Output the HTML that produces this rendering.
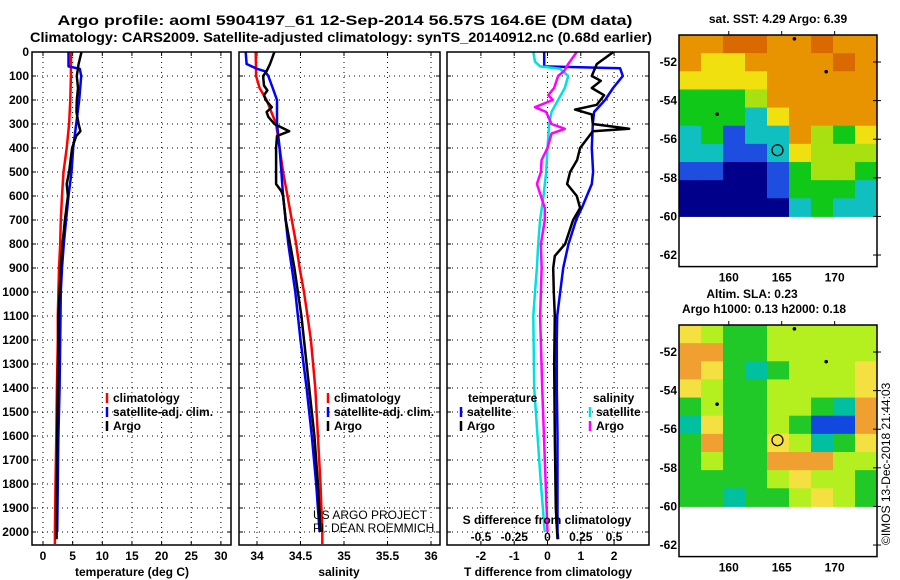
<!DOCTYPE html>
<html><head><meta charset="utf-8"><style>
html,body{margin:0;padding:0;background:#fff;}
svg{display:block;font-family:"Liberation Sans",sans-serif;}
.b{font-weight:bold;font-size:12px;}
</style></head><body>
<svg id="fig" width="900" height="580" viewBox="0 0 900 580" xmlns="http://www.w3.org/2000/svg">
<rect x="0" y="0" width="900" height="580" fill="#fff"/>
<text x="345" y="25" text-anchor="middle" font-size="14" font-weight="bold" textLength="575" lengthAdjust="spacingAndGlyphs">Argo profile: aoml 5904197_61 12-Sep-2014 56.57S 164.6E (DM data)</text>
<text x="341" y="42" text-anchor="middle" font-size="14" font-weight="bold" textLength="622" lengthAdjust="spacingAndGlyphs">Climatology: CARS2009. Satellite-adjusted climatology: synTS_20140912.nc (0.68d earlier)</text>
<g id="g"></g>
</svg>
<script>
// ---------- data ----------
const depthTicks=[0,100,200,300,400,500,600,700,800,900,1000,1100,1200,1300,1400,1500,1600,1700,1800,1900,2000];
const tTicks=[0,5,10,15,20,25,30];
const sTicks=[34,34.5,35,35.5,36];
const sTickLabels=["34","34.5","35","35.5","36"];
const dtTicks=[-2,-1,0,1,2];
const dsTicks=[-0.5,-0.25,0,0.25,0.5];
const dsTickLabels=["-0.5","-0.25","0","0.25","0.5"];

const tClimD=[0,100,200,300,400,500,600,700,800,900,1000,1100,1200,1400,1600,1800,2000,2050];
const tClim=[4.73,4.7,4.6,4.4,4.0,3.45,3.2,3.0,2.9,2.7,2.6,2.5,2.5,2.35,2.25,2.1,2.0,2.0];
const tSatD=[0,60,70,100,200,300,400,500,600,700,800,900,1000,1100,1200,1400,1600,1800,2000];
const tSat=[4.3,4.3,6.2,6.45,6.1,5.6,5.1,4.8,4.3,3.9,3.5,3.2,3.0,2.95,2.9,2.8,2.6,2.5,2.4];
const tArgoD=[0,50,100,150,200,250,300,330,350,400,500,550,600,700,800,900,1000,1100,1200,1400,1600,1800,2000,2030];
const tArgo=[6.5,6.0,5.7,5.9,5.7,5.65,6.0,6.3,5.6,4.9,4.4,4.0,4.2,3.7,3.3,3.0,2.8,2.6,2.6,2.5,2.4,2.35,2.3,2.3];

const sClimD=[0,100,150,200,300,400,500,600,700,800,900,1000,1100,1200,1400,1600,1800,2000,2050];
const sClim=[33.985,33.99,34.03,34.11,34.22,34.26,34.30,34.35,34.40,34.45,34.49,34.54,34.58,34.62,34.67,34.70,34.73,34.75,34.75];
const sSatD=[0,50,70,80,100,150,200,300,400,500,600,700,800,900,1000,1100,1200,1400,1600,1800,2000];
const sSat=[33.87,33.88,34.0,34.09,34.13,34.18,34.23,34.23,34.26,34.28,34.30,34.33,34.36,34.40,34.44,34.47,34.50,34.57,34.63,34.68,34.72];
const sArgoD=[0,50,80,100,140,160,180,200,230,250,270,300,330,350,400,450,500,550,580,600,700,800,900,1000,1100,1200,1400,1600,1800,2000];
const sArgo=[34.20,34.15,34.11,34.07,34.08,34.12,34.08,34.10,34.17,34.11,34.13,34.20,34.37,34.23,34.22,34.22,34.22,34.22,34.28,34.30,34.33,34.38,34.43,34.47,34.51,34.54,34.60,34.66,34.70,34.73];

const dtSatD=[0,60,68,100,150,200,250,300,400,500,550,600,650,700,800,900,1000,1100,1200,1400,1600,1800,2000,2030];
const dtSat=[-0.1,-0.1,2.18,2.26,1.97,1.73,1.4,1.36,1.33,1.37,1.33,1.18,1.03,0.86,0.63,0.47,0.38,0.29,0.28,0.28,0.3,0.3,0.3,0.32];
const dtArgoD=[0,50,100,120,150,180,220,240,260,300,320,330,400,450,500,550,600,650,700,800,850,900,1000,1100,1300,1600,1900,2030];
const dtArgo=[1.98,1.48,1.33,1.6,1.33,1.7,1.48,0.83,1.33,1.36,2.45,1.36,0.98,0.89,0.68,0.59,0.88,0.98,0.77,0.53,0.22,0.17,0.19,0.22,0.2,0.22,0.25,0.3];
const dsSatD=[0,40,60,70,100,150,200,250,300,400,500,600,700,800,900,1000,1100,1400,1800,2000];
const dsSat=[-0.107,-0.094,-0.056,0.094,0.156,0.13,0.08,0.03,0.013,0,-0.01,-0.03,-0.056,-0.07,-0.08,-0.094,-0.107,-0.1,-0.05,-0.02];
const dsArgoD=[0,50,80,100,150,180,200,230,250,300,320,340,400,450,500,550,600,650,700,800,900,1000,1100,1400,1700,2000];
const dsArgo=[0.22,0.156,0.124,0.08,0.05,0.006,0.04,-0.094,-0.01,0.03,0.13,0.03,0.0,-0.044,-0.05,-0.08,-0.05,-0.02,-0.02,-0.05,-0.044,-0.05,-0.056,-0.04,-0.02,0.0];

const latTicks=[-52,-54,-56,-58,-60,-62];
const lonTicks=[160,165,170];
const sstGrid=[
[7,7,8,8,7,7,8,7,7],
[7,6,6,7,7,7,7,8,7],
[6,6,6,6,7,7,7,7,7],
[4,4,4,5,7,7,7,7,7],
[4,4,4,3,6,7,7,7,7],
[3,4,2,3,3,7,5,4,6],
[3,3,2,2,3,6,5,5,5],
[2,2,1,1,2,4,5,5,4],
[1,1,1,1,2,4,4,4,3],
[1,1,1,1,1,3,4,3,3]];
const slaGrid=[
[6,5,4,4,5,5,5,5,5],
[7,7,4,4,5,5,5,5,5],
[7,6,4,3,4,5,5,5,6],
[6,5,4,4,5,5,5,5,6],
[4,5,4,4,5,5,4,3,7],
[3,6,4,4,5,4,2,2,7],
[4,7,4,4,6,5,3,4,6],
[4,5,4,4,7,7,7,5,5],
[4,4,4,4,5,6,5,5,4],
[4,4,3,4,4,5,6,5,4]];
const floatLon=164.6, floatLat=-56.57;
const otherLon=[166.2,169.2,158.9];
const otherLat=[-50.8,-52.5,-54.7];

// ---------- helpers ----------
const NS="http://www.w3.org/2000/svg";
const G=document.getElementById('g');
function mk(tag,attrs,parent){const e=document.createElementNS(NS,tag);for(const k in attrs)e.setAttribute(k,attrs[k]);(parent||G).appendChild(e);return e;}
const Y0=52,PY=0.24,YB=545;
function yD(d){return Y0+d*PY;}
const panels=[{x0:32,x1:231},{x0:239,x1:440},{x0:447,x1:649}];
function xT(v){return 43+v*5.93;}
function xS(v){return 257+(v-34)*87;}
function xDT(v){return 547.5+v*33.3;}
function xDS(v){return 547.5+v*133;}

function grid(p,xs,name){
  depthTicks.forEach(d=>{const l=mk('line',{x1:p.x0,x2:p.x1,y1:yD(d),y2:yD(d),stroke:'#000','stroke-width':1,'stroke-dasharray':'1,4'});
    
    
    mk('line',{x1:p.x0,x2:p.x0+4,y1:yD(d),y2:yD(d),stroke:'#000'});mk('line',{x1:p.x1-4,x2:p.x1,y1:yD(d),y2:yD(d),stroke:'#000'});});
  xs.forEach(x=>{const l=mk('line',{x1:x,x2:x,y1:Y0,y2:YB,stroke:'#000','stroke-width':1,'stroke-dasharray':'1,4'});
    
    
    mk('line',{x1:x,x2:x,y1:YB-4,y2:YB,stroke:'#000'});mk('line',{x1:x,x2:x,y1:Y0,y2:Y0+4,stroke:'#000'});});
}
function frame(p,name){const r=mk('rect',{x:p.x0,y:Y0,width:p.x1-p.x0,height:YB-Y0,fill:'none',stroke:'#000','stroke-width':1.5});
  
  }
function series(ds,vs,fx,col,name){
  const pts=ds.map((d,i)=>fx(vs[i]).toFixed(1)+','+yD(d).toFixed(1)).join(' ');
  const l=mk('polyline',{points:pts,fill:'none',stroke:col,'stroke-width':2.5,'stroke-linejoin':'round'});
  
  
}
function txt(x,y,s,attrs,name){const t=mk('text',Object.assign({x:x,y:y,class:'b'},attrs||{}));t.textContent=s;
  
  
  return t;}
function legend(x,y,col,s,name){const b=mk('line',{x1:x,x2:x,y1:y-9,y2:y+1,stroke:col,'stroke-width':2.5});
  
  
  txt(x+6,y,s,{},name+'-label');}

// depth labels
depthTicks.forEach(d=>{txt(29,yD(d)+4,String(d),{'text-anchor':'end'},'depth-tick-label');});

// panel 1
grid(panels[0],tTicks.map(xT),'temp');
series(tClimD,tClim,xT,'#ff0000','temp-climatology-line');
series(tSatD,tSat,xT,'#0000ff','temp-satellite-line');
series(tArgoD,tArgo,xT,'#000000','temp-argo-line');
frame(panels[0],'temperature-panel');
tTicks.forEach(v=>txt(xT(v),560,String(v),{'text-anchor':'middle'},'temp-tick-label'));
txt(132,576,'temperature (deg C)',{'text-anchor':'middle'},'temp-axis-title');
legend(107,402,'#ff0000','climatology','temp-legend-climatology');
legend(107,416,'#0000ff','satellite-adj. clim.','temp-legend-satellite');
legend(107,430,'#000000','Argo','temp-legend-argo');

// panel 2
grid(panels[1],sTicks.map(xS),'sal');
series(sClimD,sClim,xS,'#ff0000','sal-climatology-line');
series(sSatD,sSat,xS,'#0000ff','sal-satellite-line');
series(sArgoD,sArgo,xS,'#000000','sal-argo-line');
frame(panels[1],'salinity-panel');
sTicks.forEach((v,i)=>txt(xS(v),560,sTickLabels[i],{'text-anchor':'middle'},'sal-tick-label'));
txt(339,576,'salinity',{'text-anchor':'middle'},'sal-axis-title');
legend(328,402,'#ff0000','climatology','sal-legend-climatology');
legend(328,416,'#0000ff','satellite-adj. clim.','sal-legend-satellite');
legend(328,430,'#000000','Argo','sal-legend-argo');
txt(313,519,'US ARGO PROJECT',{style:'font-weight:normal;font-size:12px'},'credit-project');
txt(313,532,'PI: DEAN ROEMMICH',{style:'font-weight:normal;font-size:12px'},'credit-pi');

// panel 3
grid(panels[2],dtTicks.map(xDT),'diff');
series(dtSatD,dtSat,xDT,'#0000ff','dt-satellite-line');
series(dtArgoD,dtArgo,xDT,'#000000','dt-argo-line');
series(dsSatD,dsSat,xDS,'#00e0e0','ds-satellite-line');
series(dsArgoD,dsArgo,xDS,'#ff00ff','ds-argo-line');
frame(panels[2],'difference-panel');
dtTicks.forEach(v=>txt(xDT(v),560,String(v),{'text-anchor':'middle'},'dt-tick-label'));
txt(548,576,'T difference from climatology',{'text-anchor':'middle'},'dt-axis-title');
dsTicks.forEach((v,i)=>txt(xDS(v),541,dsTickLabels[i],{'text-anchor':'middle'},'ds-tick-label'));
txt(547,524,'S difference from climatology',{'text-anchor':'middle'},'ds-axis-title');
txt(468,402,'temperature',{},'diff-legend-temperature-heading');
txt(593,402,'salinity',{},'diff-legend-salinity-heading');
legend(461,416,'#0000ff','satellite','diff-legend-t-satellite');
legend(461,430,'#000000','Argo','diff-legend-t-argo');
legend(590,416,'#00e0e0','satellite','diff-legend-s-satellite');
legend(590,430,'#ff00ff','Argo','diff-legend-s-argo');

// maps
const MX0=679,MX1=877,LON0=155.3,LON1=174.0,PXLAT=19.3,LATTOP=-50.6;
function mxl(lon){return MX0+(lon-LON0)*(MX1-MX0)/(LON1-LON0);}
const sstCols={1:'#00008b',2:'#1e4ee0',3:'#10c0c0',4:'#10c818',5:'#a8e010',6:'#f0e010',7:'#e89400',8:'#d86a00'};
const slaCols={2:'#1048e0',3:'#00c0a0',4:'#20c828',5:'#b4f020',6:'#f4e040',7:'#f0a030'};
function map(top,gridArr,cols,name,title1,title2){
  const myl=lat=>top+(LATTOP-lat)*PXLAT;
  const rows=gridArr.length,ncols=gridArr[0].length;
  const yEnd=myl(-60);const cw=(MX1-MX0)/ncols,ch=(yEnd-top)/rows;
  gridArr.forEach((row,r)=>row.forEach((v,c)=>{const cell=mk('rect',{x:MX0+c*cw,y:top+r*ch,width:cw+0.5,height:ch+0.5,fill:cols[v]});
    
    }));
  const fr=mk('rect',{x:MX0,y:top,width:MX1-MX0,height:myl(-62.6)-top,fill:'none',stroke:'#000','stroke-width':1.5});
  
  
  latTicks.forEach(l=>{const y=myl(l);mk('line',{x1:MX1-4,x2:MX1,y1:y,y2:y,stroke:'#000'});mk('line',{x1:MX1,x2:MX1+4,y1:y,y2:y,stroke:'#000'});
    txt(MX0-2,y+4,String(l),{'text-anchor':'end'},name+'-lat-label');});
  lonTicks.forEach(l=>{const x=mxl(l);mk('line',{x1:x,x2:x,y1:top-4,y2:top,stroke:'#000'});
    txt(x,myl(-62.6)+15,String(l),{'text-anchor':'middle'},name+'-lon-label');});
  otherLon.forEach((lo,i)=>{const d=mk('circle',{cx:mxl(lo),cy:myl(otherLat[i]),r:1.8,fill:'#000'});
    
    });
  const c=mk('circle',{cx:mxl(floatLon),cy:myl(floatLat),r:5.5,fill:'none',stroke:'#000','stroke-width':1.2});
  
  
  if(title2){txt(752,top-27,title1,{'text-anchor':'middle'},name+'-title');txt(764,top-12,title2,{'text-anchor':'middle'},name+'-subtitle');}
  else txt(778,top-12,title1,{'text-anchor':'middle'},name+'-title');
}
map(35,sstGrid,sstCols,'sst-map','sat. SST: 4.29 Argo: 6.39');
map(325,slaGrid,slaCols,'sla-map','Altim. SLA: 0.23','Argo h1000: 0.13 h2000: 0.18');
const imos=txt(890,545,'©IMOS 13-Dec-2018 21:44:03',{transform:'rotate(-90 890 545)',style:'font-weight:normal;font-size:12px'},'imos-timestamp');
</script>
</body></html>
